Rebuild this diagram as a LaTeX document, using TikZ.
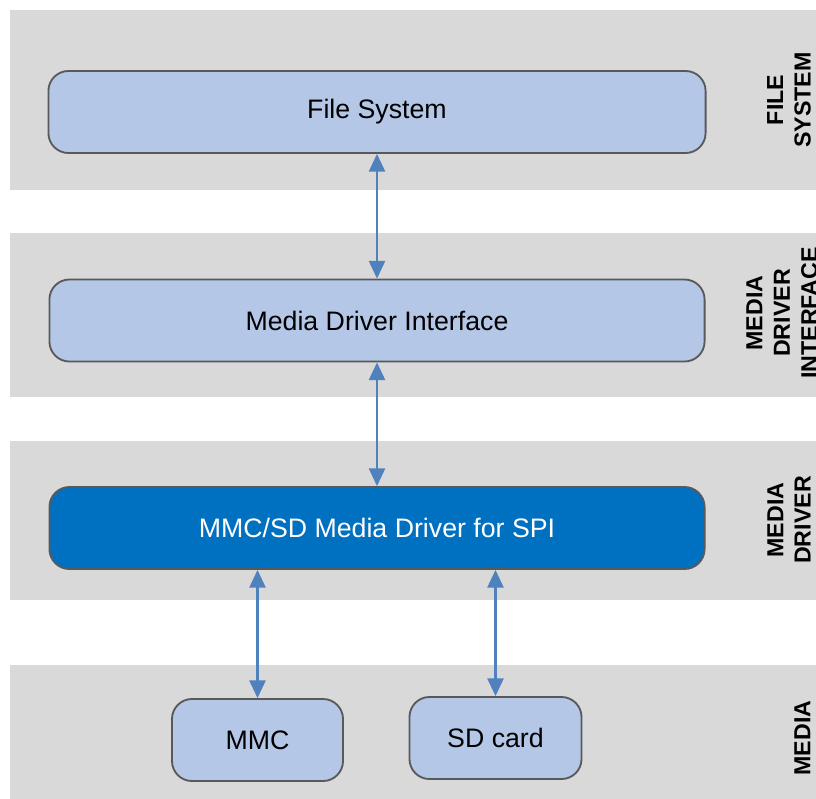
\documentclass[tikz,border=0pt]{standalone}
\usepackage{fontspec}
\setmainfont{Liberation Sans}
\definecolor{grisfondo}{RGB}{217, 217, 217}
\definecolor{grisborde}{RGB}{89, 89, 89}
\definecolor{azulcaja}{RGB}{180, 199, 231}
\definecolor{azuldrv}{RGB}{0, 112, 192}
\definecolor{azulflecha}{RGB}{79, 129, 189}
\usetikzlibrary{arrows.meta}

\begin{document}
\begin{tikzpicture}[x=0.025cm, y=-0.025cm,
    capa/.style={draw=grisborde, line width=1.3pt, fill=azulcaja, rounded corners=0.5cm,
      inner sep=0pt, minimum height=2.05cm, font=\fontsize{19}{23}\selectfont},
    flecha/.style={{Triangle[length=0.44cm,width=0.4cm]}-{Triangle[length=0.44cm,width=0.4cm]},
      azulflecha, line width=1.6pt},
    etiqueta/.style={rotate=90, align=center, inner sep=0pt,
      font=\bfseries\fontsize{16.5}{19.5}\selectfont}]
        \useasboundingbox (0,0) rectangle (816,798);
        % bandas de fondo
        \fill[grisfondo] (10,10)  rectangle (830,190);
        \fill[grisfondo] (10,233) rectangle (830,397);
        \fill[grisfondo] (10,441) rectangle (830,600);
        \fill[grisfondo] (10,665) rectangle (830,810);
        % capas
        \node[capa, minimum width=16.425cm] (fs)  at (377,112)   {File System};
        \node[capa, minimum width=16.375cm] (mdi) at (377,320.5) {Media Driver Interface};
        \node[capa, minimum width=16.375cm, fill=azuldrv, text=white] (drv) at (377,528) {MMC/SD Media Driver for SPI};
        \node[capa, minimum width=4.275cm] (mmc) at (257.5,740) {MMC};
        \node[capa, minimum width=4.3cm]   (sd)  at (495.5,738) {SD card};
        % etiquetas laterales
        \node[etiqueta] (lfs)  at (789,100)   {FILE\\SYSTEM};
        \node[etiqueta] (lmdi) at (782,313)   {MEDIA\\DRIVER\\INTERFACE};
        \node[etiqueta] (ldrv) at (789,520)   {MEDIA\\DRIVER};
        \node[etiqueta] (lmed) at (802.5,738) {MEDIA};
        % flechas
        \draw[flecha] (fs.south) -- (mdi.north);
        \draw[flecha] (mdi.south) -- (drv.north);
        \draw[flecha] (mmc.north |- drv.south) -- (mmc.north);
        \draw[flecha] (sd.north |- drv.south) -- (sd.north);
      \end{tikzpicture}
\end{document}
